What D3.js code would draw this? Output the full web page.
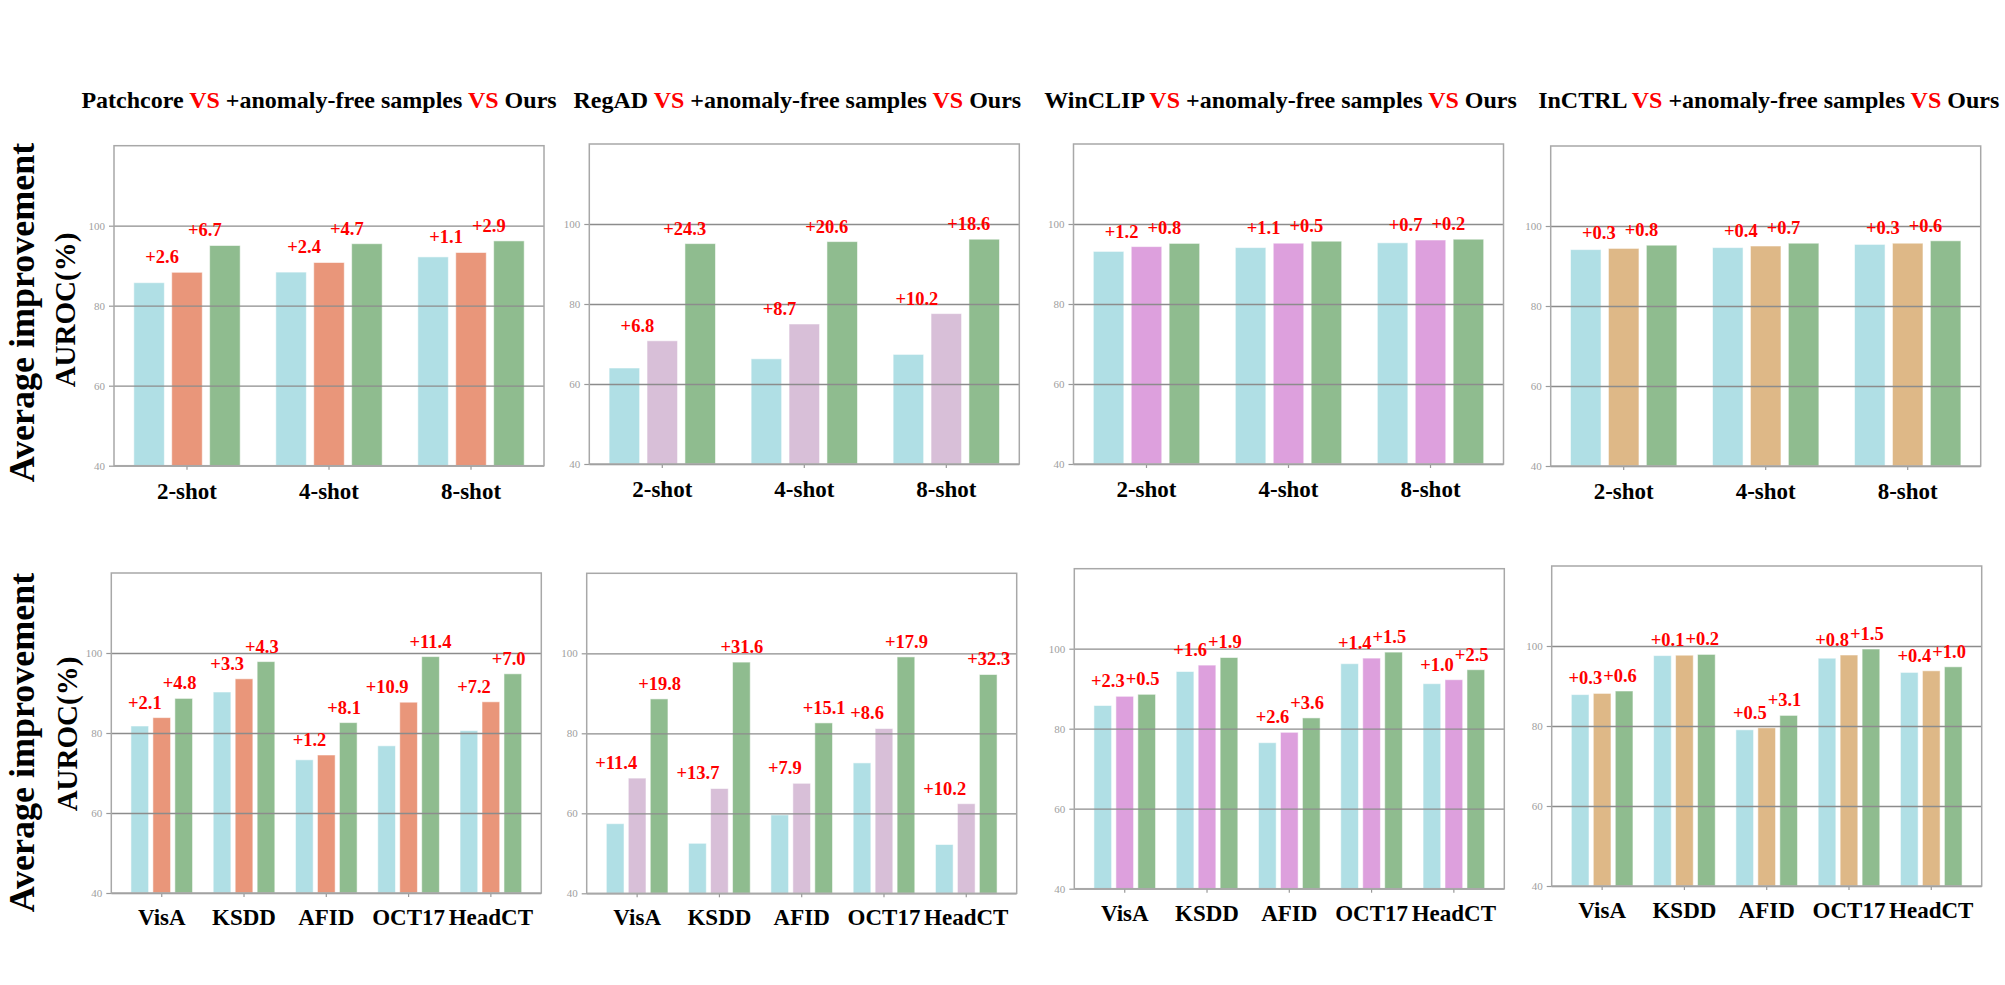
<!DOCTYPE html>
<html>
<head>
<meta charset="utf-8">
<script src="https://cdn.jsdelivr.net/npm/d3@7"></script>
<style>
  body { margin: 0; background: #fff; }
  svg { display: block; }
</style>
</head>
<body>
<svg id="chart" width="2005" height="985"></svg>
<script>
// ---------------- DATA ----------------
const shotCategories = ["2-shot", "4-shot", "8-shot"];
const datasetCategories = ["VisA", "KSDD", "AFID", "OCT17", "HeadCT"];
const methodNames = ["Patchcore", "RegAD", "WinCLIP", "InCTRL"];
const yTickValues = [40, 60, 80, 100];

// Top row: few-shot settings (baseline, +anomaly-free samples, Ours)
const patchcoreShotBase = [85.75, 88.4, 92.2];
const patchcoreShotFree = [88.35, 90.8, 93.3];
const patchcoreShotOurs = [95.05, 95.5, 96.2];
const patchcoreShotGainFree = ["+2.6", "+2.4", "+1.1"];
const patchcoreShotGainOurs = ["+6.7", "+4.7", "+2.9"];

const regadShotBase = [64.0, 66.3, 67.4];
const regadShotFree = [70.8, 75.0, 77.6];
const regadShotOurs = [95.1, 95.6, 96.2];
const regadShotGainFree = ["+6.8", "+8.7", "+10.2"];
const regadShotGainOurs = ["+24.3", "+20.6", "+18.6"];

const winclipShotBase = [93.15, 94.1, 95.3];
const winclipShotFree = [94.35, 95.2, 96.0];
const winclipShotOurs = [95.15, 95.7, 96.2];
const winclipShotGainFree = ["+1.2", "+1.1", "+0.7"];
const winclipShotGainOurs = ["+0.8", "+0.5", "+0.2"];

const inctrlShotBase = [94.1, 94.6, 95.4];
const inctrlShotFree = [94.4, 95.0, 95.7];
const inctrlShotOurs = [95.2, 95.7, 96.3];
const inctrlShotGainFree = ["+0.3", "+0.4", "+0.3"];
const inctrlShotGainOurs = ["+0.8", "+0.7", "+0.6"];

// Bottom row: datasets
const patchcoreDataBase = [81.75, 90.25, 73.3, 76.8, 80.6];
const patchcoreDataFree = [83.85, 93.55, 74.5, 87.7, 87.8];
const patchcoreDataOurs = [88.65, 97.85, 82.6, 99.1, 94.8];
const patchcoreDataGainFree = ["+2.1", "+3.3", "+1.2", "+10.9", "+7.2"];
const patchcoreDataGainOurs = ["+4.8", "+4.3", "+8.1", "+11.4", "+7.0"];

const regadDataBase = [57.4, 52.5, 59.6, 72.6, 52.2];
const regadDataFree = [68.8, 66.2, 67.5, 81.2, 62.4];
const regadDataOurs = [88.6, 97.8, 82.6, 99.1, 94.7];
const regadDataGainFree = ["+11.4", "+13.7", "+7.9", "+8.6", "+10.2"];
const regadDataGainOurs = ["+19.8", "+31.6", "+15.1", "+17.9", "+32.3"];

const winclipDataBase = [85.8, 94.3, 76.5, 96.25, 91.25];
const winclipDataFree = [88.1, 95.9, 79.1, 97.65, 92.25];
const winclipDataOurs = [88.6, 97.8, 82.7, 99.15, 94.75];
const winclipDataGainFree = ["+2.3", "+1.6", "+2.6", "+1.4", "+1.0"];
const winclipDataGainOurs = ["+0.5", "+1.9", "+3.6", "+1.5", "+2.5"];

const inctrlDataBase = [87.85, 97.6, 79.05, 96.95, 93.4];
const inctrlDataFree = [88.15, 97.7, 79.55, 97.75, 93.8];
const inctrlDataOurs = [88.75, 97.9, 82.65, 99.25, 94.8];
const inctrlDataGainFree = ["+0.3", "+0.1", "+0.5", "+0.8", "+0.4"];
const inctrlDataGainOurs = ["+0.6", "+0.2", "+3.1", "+1.5", "+1.0"];

// ---------------- STYLE / LAYOUT ----------------
const baseColor = "#b0dfe5";
const oursColor = "#8fbc8f";
const midColors = ["#e9967a", "#d8bfd8", "#dda0dd", "#deb887"];
const serif = "'Liberation Serif', 'Times New Roman', serif";

const boxW = 430, boxH = 320;
const topBoxX = [114, 589.3, 1073.5, 1550.7];
const topBoxY = [145.7, 144, 144, 146];
const botBoxX = [111.3, 586.7, 1074.3, 1551.7];
const botBoxY = [573, 573.3, 568.7, 566];
const titleDx = [-10, -7, -8, 3];

const panels = [
  { row: 0, col: 0, cats: shotCategories, s: [patchcoreShotBase, patchcoreShotFree, patchcoreShotOurs], g: [patchcoreShotGainFree, patchcoreShotGainOurs] },
  { row: 0, col: 1, cats: shotCategories, s: [regadShotBase, regadShotFree, regadShotOurs], g: [regadShotGainFree, regadShotGainOurs] },
  { row: 0, col: 2, cats: shotCategories, s: [winclipShotBase, winclipShotFree, winclipShotOurs], g: [winclipShotGainFree, winclipShotGainOurs] },
  { row: 0, col: 3, cats: shotCategories, s: [inctrlShotBase, inctrlShotFree, inctrlShotOurs], g: [inctrlShotGainFree, inctrlShotGainOurs] },
  { row: 1, col: 0, cats: datasetCategories, s: [patchcoreDataBase, patchcoreDataFree, patchcoreDataOurs], g: [patchcoreDataGainFree, patchcoreDataGainOurs] },
  { row: 1, col: 1, cats: datasetCategories, s: [regadDataBase, regadDataFree, regadDataOurs], g: [regadDataGainFree, regadDataGainOurs] },
  { row: 1, col: 2, cats: datasetCategories, s: [winclipDataBase, winclipDataFree, winclipDataOurs], g: [winclipDataGainFree, winclipDataGainOurs] },
  { row: 1, col: 3, cats: datasetCategories, s: [inctrlDataBase, inctrlDataFree, inctrlDataOurs], g: [inctrlDataGainFree, inctrlDataGainOurs] }
];

const svg = d3.select("#chart");
svg.append("rect").attr("width", 2005).attr("height", 985).attr("fill", "#fff");

panels.forEach(p => {
  const x0 = p.row === 0 ? topBoxX[p.col] : botBoxX[p.col];
  const y0 = p.row === 0 ? topBoxY[p.col] : botBoxY[p.col];
  const g = svg.append("g").attr("transform", `translate(${x0},${y0})`);

  const x = d3.scaleBand().domain(p.cats).range([0, boxW])
    .paddingInner(0).paddingOuter(p.row === 0 ? 0.014 : 0.113);
  const y = d3.scaleLinear().domain([40, 120]).range([boxH, 0]);
  const step = x.step();
  const barW = 0.215 * step;
  const barStep = 0.267 * step;
  const colors = [baseColor, midColors[p.col], oursColor];
  const cx = (c, k) => x(c) + x.bandwidth() / 2 + (k - 1) * barStep;

  // bars
  p.s.forEach((vals, k) => {
    g.append("g").selectAll("rect").data(p.cats).join("rect")
      .attr("x", (c) => cx(c, k) - barW / 2)
      .attr("y", (c, i) => y(vals[i]))
      .attr("width", barW)
      .attr("height", (c, i) => y(40) - y(vals[i]))
      .attr("fill", colors[k])
      .attr("stroke", "#ffffff")
      .attr("stroke-opacity", 0.55)
      .attr("stroke-width", 1);
  });

  // gridlines (above bars)
  const grid = g.append("g").call(d3.axisLeft(y).tickValues(yTickValues).tickSize(-boxW).tickFormat(""));
  grid.select(".domain").remove();
  grid.selectAll("line").attr("stroke", "#8c8c8c").attr("stroke-width", 1.3);

  // y axis ticks + labels
  const ya = g.append("g").call(d3.axisLeft(y).tickValues(yTickValues).tickSize(5).tickPadding(4));
  ya.select(".domain").remove();
  ya.selectAll("line").attr("stroke", "#999").attr("stroke-width", 1.2);
  ya.selectAll("text").attr("fill", "#a0a0a0").style("font-family", serif).style("font-size", "11px");

  // x axis
  const xa = g.append("g").attr("transform", `translate(0,${boxH})`).call(d3.axisBottom(x).tickSize(4));
  xa.select(".domain").remove();
  xa.selectAll("line").attr("stroke", "#999").attr("stroke-width", 1.2);
  xa.selectAll("text").attr("y", p.row === 0 ? 33 : 32).attr("dy", 0)
    .attr("fill", "#000").style("font-family", serif).style("font-weight", "bold").style("font-size", "23px");

  // frame
  g.append("rect").attr("width", boxW).attr("height", boxH)
    .attr("fill", "none").attr("stroke", "#a8a8a8").attr("stroke-width", 1.5);

  // gain labels
  const aOff = p.row === 0 ? -8 : 0;
  const labels = g.append("g").style("font-family", serif).style("font-weight", "bold")
    .style("font-size", "18.5px").attr("fill", "#ff0000");
  labels.selectAll("text.free").data(p.cats).join("text").attr("class", "free")
    .attr("x", (c) => cx(c, 1) + aOff)
    .attr("y", (c, i) => y(p.s[1][i]) - 9)
    .attr("text-anchor", "end")
    .text((c, i) => p.g[0][i]);
  labels.selectAll("text.ours").data(p.cats).join("text").attr("class", "ours")
    .attr("x", (c) => cx(c, 1) + 1)
    .attr("y", (c, i) => y(p.s[2][i]) - 9)
    .attr("text-anchor", "start")
    .text((c, i) => p.g[1][i]);
});

// titles
methodNames.forEach((m, i) => {
  const t = svg.append("text")
    .attr("x", topBoxX[i] + boxW / 2 + titleDx[i])
    .attr("y", 108)
    .attr("text-anchor", "middle")
    .style("font-family", serif).style("font-weight", "bold").style("font-size", "24px");
  t.append("tspan").attr("fill", "#000").text(m + " ");
  t.append("tspan").attr("fill", "#ff0000").text("VS");
  t.append("tspan").attr("fill", "#000").text(" +anomaly-free samples ");
  t.append("tspan").attr("fill", "#ff0000").text("VS");
  t.append("tspan").attr("fill", "#000").text(" Ours");
});

// left axis titles
[[33.5, 312.5, 75, 310], [33.8, 742.5, 76.5, 734]].forEach(([ax, ay, bx, by]) => {
  svg.append("text").attr("transform", `translate(${ax},${ay}) rotate(-90)`)
    .attr("text-anchor", "middle")
    .style("font-family", serif).style("font-weight", "bold").style("font-size", "36px")
    .attr("fill", "#000").text("Average improvement");
  svg.append("text").attr("transform", `translate(${bx},${by}) rotate(-90)`)
    .attr("text-anchor", "middle")
    .style("font-family", serif).style("font-weight", "bold").style("font-size", "29px")
    .attr("fill", "#000").text("AUROC(%)");
});
</script>
</body>
</html>
